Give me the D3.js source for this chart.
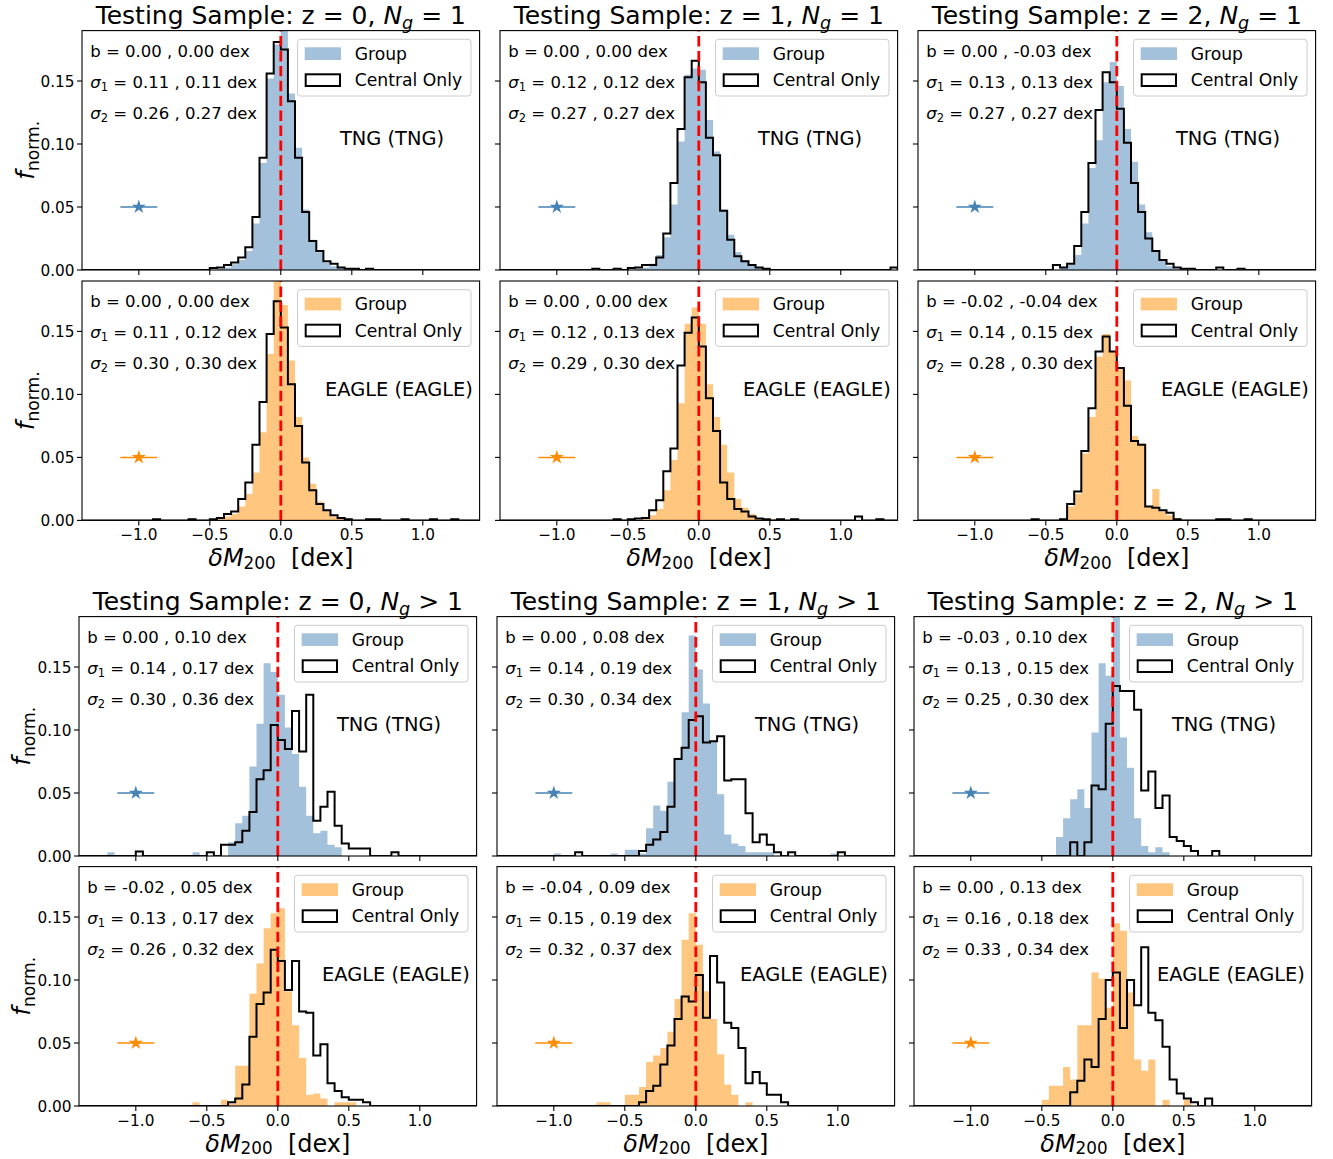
<!DOCTYPE html>
<html>
<head>
<meta charset="utf-8">
<script src="https://cdn.jsdelivr.net/npm/d3@7"></script>
<style>
  body { margin: 0; background: #fff; }
  svg text { font-family: "DejaVu Sans", sans-serif; white-space: pre; }
</style>
</head>
<body>
<svg id="fig" width="1333" height="1159"></svg>
<script>
// grille des histogrammes (dex)
const gridStart = -1.4, binWidth = 0.05, nBins = 56;
const mainStart = -0.5;   // premier bin des tableaux ci-dessous
const xTicks = [-1.0, -0.5, 0.0, 0.5, 1.0];
const yTicks = [0, 0.05, 0.10, 0.15];
const redshifts = [0, 1, 2];
const starX = -1.0, starY = 0.05, starErr = 0.13;

// TNG, N_g = 1
const tngN1Z0Group   = [0, 0.001, 0.002, 0.0045, 0.008, 0.015, 0.037, 0.085, 0.152, 0.179, 0.2, 0.140, 0.097, 0.048, 0.024, 0.014, 0.006, 0.003, 0.0015, 0, 0.001, 0, 0, 0];
const tngN1Z0Central = [0.0015, 0.002, 0.004, 0.006, 0.010, 0.018, 0.042, 0.089, 0.156, 0.181, 0.175, 0.134, 0.089, 0.046, 0.023, 0.015, 0.007, 0.005, 0.002, 0.001, 0.001, 0, 0.001, 0];
const tngN1Z1Group   = [0, 0.001, 0.002, 0.005, 0.012, 0.026, 0.052, 0.102, 0.155, 0.160, 0.159, 0.119, 0.094, 0.048, 0.028, 0.014, 0.008, 0.004, 0.002, 0.001, 0, 0, 0, 0];
const tngN1Z1Central = [0.0015, 0.002, 0.004, 0.004, 0.010, 0.029, 0.069, 0.112, 0.153, 0.166, 0.149, 0.105, 0.091, 0.047, 0.024, 0.011, 0.007, 0.004, 0.002, 0.001, 0, 0, 0, 0];
const tngN1Z2Group   = [0, 0, 0.002, 0.004, 0.012, 0.037, 0.081, 0.103, 0.149, 0.165, 0.146, 0.112, 0.086, 0.052, 0.030, 0.015, 0.008, 0.003, 0.001, 0, 0, 0, 0, 0];
const tngN1Z2Central = [0, 0.004, 0.002, 0.005, 0.019, 0.046, 0.085, 0.127, 0.157, 0.149, 0.128, 0.101, 0.069, 0.046, 0.025, 0.015, 0.008, 0.005, 0.002, 0.001, 0.001, 0, 0, 0];

// EAGLE, N_g = 1
const eagleN1Z0Group   = [0, 0.001, 0.003, 0.005, 0.011, 0.021, 0.038, 0.070, 0.132, 0.2, 0.171, 0.127, 0.082, 0.050, 0.029, 0.015, 0.008, 0.003, 0.0015, 0, 0, 0, 0, 0];
const eagleN1Z0Central = [0.001, 0.002, 0.005, 0.007, 0.017, 0.030, 0.060, 0.094, 0.148, 0.174, 0.153, 0.108, 0.075, 0.046, 0.024, 0.013, 0.008, 0.004, 0.002, 0.001, 0, 0, 0.001, 0.001];
const eagleN1Z1Group   = [0, 0, 0.001, 0.004, 0.009, 0.024, 0.048, 0.093, 0.156, 0.169, 0.156, 0.108, 0.082, 0.060, 0.038, 0.017, 0.010, 0.005, 0.002, 0.001, 0.001, 0.001, 0, 0];
const eagleN1Z1Central = [0.001, 0.0015, 0.002, 0.008, 0.016, 0.039, 0.057, 0.123, 0.149, 0.161, 0.138, 0.097, 0.071, 0.030, 0.017, 0.009, 0.007, 0.003, 0.0015, 0.001, 0, 0.001, 0, 0.001];
const eagleN1Z2Group   = [0, 0, 0, 0.011, 0.021, 0.053, 0.082, 0.130, 0.148, 0.134, 0.120, 0.111, 0.067, 0.061, 0.011, 0.025, 0.007, 0.004, 0.002, 0, 0, 0, 0, 0];
const eagleN1Z2Central = [0, 0, 0.001, 0.013, 0.023, 0.055, 0.089, 0.134, 0.146, 0.134, 0.121, 0.091, 0.063, 0.060, 0.011, 0.010, 0.008, 0.006, 0.001, 0, 0, 0, 0, 0];

// TNG, N_g > 1
const tngNgZ0Group   = [0, 0, 0, 0.011, 0.026, 0.032, 0.071, 0.105, 0.153, 0.146, 0.128, 0.102, 0.081, 0.055, 0.032, 0.018, 0.020, 0.009, 0.007, 0, 0, 0, 0, 0];
const tngNgZ0Central = [0.003, 0, 0.009, 0.009, 0.011, 0.020, 0.035, 0.061, 0.068, 0.104, 0.092, 0.085, 0.115, 0.083, 0.128, 0.028, 0.039, 0.051, 0.024, 0.010, 0.006, 0.006, 0.006, 0];
const tngNgZ1Group   = [0.005, 0.005, 0.002, 0.022, 0.040, 0.036, 0.059, 0.078, 0.114, 0.175, 0.148, 0.121, 0.091, 0.049, 0.017, 0.010, 0.008, 0.003, 0.003, 0.003, 0.003, 0, 0, 0];
const tngNgZ1Central = [0, 0, 0.004, 0.009, 0.013, 0.019, 0.039, 0.077, 0.086, 0.108, 0.111, 0.090, 0.091, 0.095, 0.060, 0.061, 0.061, 0.034, 0.011, 0.017, 0.009, 0.003, 0, 0.003];
const tngNgZ2Group   = [0, 0, 0.015, 0.030, 0.045, 0.053, 0.038, 0.098, 0.153, 0.143, 0.2, 0.094, 0.070, 0.030, 0.008, 0.003, 0.007, 0.003, 0, 0, 0, 0, 0, 0];
const tngNgZ2Central = [0, 0, 0, 0, 0.011, 0, 0.011, 0.056, 0.053, 0.105, 0.135, 0.131, 0.131, 0.116, 0.052, 0.067, 0.038, 0.048, 0.015, 0.012, 0.008, 0.004, 0, 0];

// EAGLE, N_g > 1
const eagleNgZ0Group   = [0, 0, 0.005, 0.002, 0.032, 0.032, 0.089, 0.113, 0.141, 0.153, 0.157, 0.091, 0.064, 0.038, 0.009, 0.010, 0.006, 0, 0.003, 0.003, 0.003, 0, 0, 0];
const eagleNgZ0Central = [0, 0, 0, 0.003, 0.006, 0.017, 0.055, 0.081, 0.090, 0.124, 0.115, 0.092, 0.115, 0.075, 0.074, 0.040, 0.049, 0.018, 0.012, 0.007, 0.005, 0.005, 0.003, 0];
const eagleNgZ1Group   = [0.009, 0.009, 0.015, 0.035, 0.040, 0.046, 0.059, 0.085, 0.132, 0.153, 0.128, 0.091, 0.069, 0.041, 0.017, 0.009, 0, 0.003, 0, 0, 0, 0, 0, 0];
const eagleNgZ1Central = [0, 0, 0.003, 0.012, 0.016, 0.033, 0.048, 0.069, 0.087, 0.083, 0.104, 0.070, 0.119, 0.098, 0.066, 0.062, 0.046, 0.018, 0.027, 0.018, 0.009, 0.009, 0.003, 0];
const eagleNgZ2Group   = [0.005, 0.016, 0.016, 0.031, 0.021, 0.064, 0.064, 0.106, 0.101, 0.078, 0.145, 0.139, 0.090, 0.037, 0.028, 0.037, 0, 0.005, 0, 0, 0.005, 0, 0, 0];
const eagleNgZ2Central = [0, 0, 0, 0, 0.011, 0.020, 0.037, 0.031, 0.069, 0.100, 0.106, 0.062, 0.100, 0.080, 0.126, 0.074, 0.068, 0.047, 0.021, 0.010, 0.006, 0.003, 0, 0.006];

// valeurs isolées hors de la plage principale : [bord gauche du bin, hauteur]
const tngN1CentralTails   = [[], [[-0.75, 0.001], [-0.6, 0.001], [1.35, 0.002]], [[0.7, 0.002], [0.85, 0.001]]];
const eagleN1CentralTails = [[[-0.9, 0.001], [-0.65, 0.001], [0.85, 0.001], [1.05, 0.001], [1.2, 0.001]],
                             [[-0.6, 0.001], [1.1, 0.003], [1.25, 0.001]],
                             [[-0.6, 0.001], [0.7, 0.001], [0.75, 0.001], [0.9, 0.001]]];
const tngNgGroupTails     = [[[-1.2, 0.003], [-0.6, 0.003]], [[-1.0, 0.002], [-0.6, 0.002], [0.95, 0.002]], []];
const tngNgCentralTails   = [[[-1.0, 0.0035], [0.8, 0.003]], [[-0.85, 0.003], [1.0, 0.003]], [[0.7, 0.004]]];
const eagleNgGroupTails   = [[[-0.6, 0.003]], [[-0.7, 0.003], [-0.65, 0.003]], []];

// statistiques affichées (Group , Central Only)
const tngN1Bias   = [[0.00, 0.00], [0.00, 0.00], [0.00, -0.03]];
const tngN1Sig1   = [[0.11, 0.11], [0.12, 0.12], [0.13, 0.13]];
const tngN1Sig2   = [[0.26, 0.27], [0.27, 0.27], [0.27, 0.27]];
const eagleN1Bias = [[0.00, 0.00], [0.00, 0.00], [-0.02, -0.04]];
const eagleN1Sig1 = [[0.11, 0.12], [0.12, 0.13], [0.14, 0.15]];
const eagleN1Sig2 = [[0.30, 0.30], [0.29, 0.30], [0.28, 0.30]];
const tngNgBias   = [[0.00, 0.10], [0.00, 0.08], [-0.03, 0.10]];
const tngNgSig1   = [[0.14, 0.17], [0.14, 0.19], [0.13, 0.15]];
const tngNgSig2   = [[0.30, 0.36], [0.30, 0.34], [0.25, 0.30]];
const eagleNgBias = [[-0.02, 0.05], [-0.04, 0.09], [0.00, 0.13]];
const eagleNgSig1 = [[0.13, 0.17], [0.15, 0.19], [0.16, 0.18]];
const eagleNgSig2 = [[0.26, 0.32], [0.32, 0.37], [0.33, 0.34]];

const blocks = [
  { sign: "=", sims: [
    { name: "TNG", grp: [tngN1Z0Group, tngN1Z1Group, tngN1Z2Group], cen: [tngN1Z0Central, tngN1Z1Central, tngN1Z2Central],
      grpTail: [[], [], []], cenTail: tngN1CentralTails, bias: tngN1Bias, s1: tngN1Sig1, s2: tngN1Sig2 },
    { name: "EAGLE", grp: [eagleN1Z0Group, eagleN1Z1Group, eagleN1Z2Group], cen: [eagleN1Z0Central, eagleN1Z1Central, eagleN1Z2Central],
      grpTail: [[], [], []], cenTail: eagleN1CentralTails, bias: eagleN1Bias, s1: eagleN1Sig1, s2: eagleN1Sig2 } ] },
  { sign: ">", sims: [
    { name: "TNG", grp: [tngNgZ0Group, tngNgZ1Group, tngNgZ2Group], cen: [tngNgZ0Central, tngNgZ1Central, tngNgZ2Central],
      grpTail: tngNgGroupTails, cenTail: tngNgCentralTails, bias: tngNgBias, s1: tngNgSig1, s2: tngNgSig2 },
    { name: "EAGLE", grp: [eagleNgZ0Group, eagleNgZ1Group, eagleNgZ2Group], cen: [eagleNgZ0Central, eagleNgZ1Central, eagleNgZ2Central],
      grpTail: eagleNgGroupTails, cenTail: [[], [], []], bias: eagleNgBias, s1: eagleNgSig1, s2: eagleNgSig2 } ] }
];

// mise en page
const colLeft = [[82, 500, 918], [79, 497, 914]];
const rowTop = [[30.6, 281], [616.6, 866.6]];
const axW = 397.6, axH = 239.4;
const fillCol = { TNG: "#a3c1da", EAGLE: "#ffc680" };
const starCol = { TNG: "steelblue", EAGLE: "darkorange" };
const simLabelX = { TNG: 310, EAGLE: 317 };

const fig = d3.select("#fig");
const defs = fig.append("defs");
const fmt2 = d3.format(".2f");
const fmt1 = d3.format(".1f");
const fmtStat = v => v.toFixed(2);   // tiret simple comme dans l'original

// texte avec indices
function rich(parent, x, y, size, parts, subShift = 0.2) {
  const t = parent.append("text").attr("x", x).attr("y", y).attr("font-size", size).attr("fill", "#000");
  let shift = 0;
  parts.forEach(p => {
    const ts = t.append("tspan").text(p.t);
    if (p.it) ts.attr("font-style", "italic");
    const want = p.sub ? size * subShift : 0;
    if (want !== shift) { ts.attr("dy", want - shift); shift = want; }
    if (p.sub) ts.attr("font-size", size * 0.7);
  });
  return t;
}

function fullGrid(main, tails) {
  const arr = new Array(nBins).fill(0);
  const off = Math.round((mainStart - gridStart) / binWidth);
  main.forEach((h, i) => { arr[off + i] = h; });
  tails.forEach(([x0, h]) => { arr[Math.round((x0 - gridStart) / binWidth)] = h; });
  return arr;
}

const edges = d3.range(nBins + 1).map(i => gridStart + i * binWidth);

function drawPanel(bi, ri, ci, sim) {
  const left = colLeft[bi][ci], top = rowTop[bi][ri];
  const x = d3.scaleLinear().domain([-1.4, 1.4]).range([left, left + axW]);
  const y = d3.scaleLinear().domain([0, 0.19]).range([top + axH, top]);
  const id = `clip-${bi}-${ri}-${ci}`;
  defs.append("clipPath").attr("id", id).append("rect")
    .attr("x", left).attr("y", top).attr("width", axW).attr("height", axH);

  const g = fig.append("g");
  const plot = g.append("g").attr("clip-path", `url(#${id})`);

  const grp = fullGrid(sim.grp[ci], sim.grpTail[ci]);
  const cen = fullGrid(sim.cen[ci], sim.cenTail[ci]);
  const pts = arr => arr.map((h, i) => [edges[i], h]).concat([[edges[nBins], arr[nBins - 1]]]);

  plot.append("path").datum(pts(grp))
    .attr("d", d3.area().curve(d3.curveStepAfter).x(d => x(d[0])).y0(y(0)).y1(d => y(d[1])))
    .attr("fill", fillCol[sim.name]);

  const linePts = [[edges[0], 0]].concat(pts(cen), [[edges[nBins], 0]]);
  plot.append("path").datum(linePts)
    .attr("d", d3.line().curve(d3.curveStepAfter).x(d => x(d[0])).y(d => y(d[1])))
    .attr("fill", "none").attr("stroke", "#000").attr("stroke-width", 2).attr("stroke-linejoin", "miter");

  plot.append("line")
    .attr("x1", x(0)).attr("x2", x(0)).attr("y1", y(0)).attr("y2", top)
    .attr("stroke", "red").attr("stroke-width", 2.8).attr("stroke-dasharray", "10.4,4.5");

  // étoile + barre d'erreur
  plot.append("line")
    .attr("x1", x(starX - starErr)).attr("x2", x(starX + starErr)).attr("y1", y(starY)).attr("y2", y(starY))
    .attr("stroke", starCol[sim.name]).attr("stroke-width", 1.5);
  plot.append("path")
    .attr("d", d3.symbol(d3.symbolStar, 62)())
    .attr("transform", `translate(${x(starX)},${y(starY)})`)
    .attr("fill", starCol[sim.name]);

  // statistiques
  const fs = 16.5, tx = left + 8.3;
  const b = sim.bias[ci], s1 = sim.s1[ci], s2 = sim.s2[ci];
  rich(g, tx, top + 26, fs, [{ t: `b = ${fmtStat(b[0])} , ${fmtStat(b[1])} dex` }]);
  rich(g, tx, top + 57, fs, [{ t: "σ", it: true }, { t: "1", sub: true }, { t: ` = ${fmtStat(s1[0])} , ${fmtStat(s1[1])} dex` }]);
  rich(g, tx, top + 88, fs, [{ t: "σ", it: true }, { t: "2", sub: true }, { t: ` = ${fmtStat(s2[0])} , ${fmtStat(s2[1])} dex` }]);

  g.append("text").attr("x", left + simLabelX[sim.name]).attr("y", top + 114.5)
    .attr("text-anchor", "middle").attr("font-size", 19.4).text(`${sim.name} (${sim.name})`);

  // légende
  const lg = g.append("g").attr("transform", `translate(${left + 215.5},${top + 8.7})`);
  lg.append("rect").attr("width", 173.5).attr("height", 56.7).attr("rx", 3)
    .attr("fill", "#fff").attr("fill-opacity", 0.8).attr("stroke", "#cccccc").attr("stroke-width", 1);
  lg.append("rect").attr("x", 7.2).attr("y", 8).attr("width", 36.3).attr("height", 12.7).attr("fill", fillCol[sim.name]);
  lg.append("rect").attr("x", 8.2).attr("y", 35).attr("width", 34.3).attr("height", 11.7)
    .attr("fill", "#fff").attr("stroke", "#000").attr("stroke-width", 2);
  lg.append("text").attr("x", 57.2).attr("y", 20.6).attr("font-size", 17.2).text("Group");
  lg.append("text").attr("x", 57.2).attr("y", 47.2).attr("font-size", 17.2).text("Central Only");

  // cadre et graduations
  g.append("rect").attr("x", left).attr("y", top).attr("width", axW).attr("height", axH)
    .attr("fill", "none").attr("stroke", "#000").attr("stroke-width", 1.1);
  yTicks.forEach(v => {
    g.append("line").attr("x1", left - 5).attr("x2", left).attr("y1", y(v)).attr("y2", y(v))
      .attr("stroke", "#000").attr("stroke-width", 1.1);
    if (ci === 0) {
      g.append("text").attr("x", left - 7.5).attr("y", y(v) + 5.5)
        .attr("text-anchor", "end").attr("font-size", 15.3).text(fmt2(v));
    }
  });
  xTicks.forEach(v => {
    g.append("line").attr("x1", x(v)).attr("x2", x(v)).attr("y1", top + axH).attr("y2", top + axH + 5)
      .attr("stroke", "#000").attr("stroke-width", 1.1);
    if (ri === 1) {
      g.append("text").attr("x", x(v)).attr("y", top + axH + 19.5)
        .attr("text-anchor", "middle").attr("font-size", 15.3).text(fmt1(v));
    }
  });

  if (ci === 0) {
    const yl = fig.append("g")
      .attr("transform", `translate(${bi === 0 ? 34 : 30},${top + axH / 2}) rotate(-90)`);
    rich(yl, 0, 0, 24.5, [{ t: "f", it: true }, { t: "norm.", sub: true }]).attr("text-anchor", "middle");
  }
}

blocks.forEach((blk, bi) => {
  redshifts.forEach((z, ci) => {
    const cx = colLeft[bi][ci] + axW / 2;
    rich(fig, cx, rowTop[bi][0] - 7, 25, [
      { t: `Testing Sample: z = ${z}, ` }, { t: "N", it: true }, { t: "g", it: true, sub: true }, { t: ` ${blk.sign} 1` }
    ]).attr("text-anchor", "middle");
    blk.sims.forEach((sim, ri) => drawPanel(bi, ri, ci, sim));
    rich(fig, cx, rowTop[bi][1] + axH + 45.5, 24, [
      { t: "δM", it: true }, { t: "200", sub: true }, { t: "  [dex]" }
    ], 0.12).attr("text-anchor", "middle");
  });
});
</script>
</body>
</html>
